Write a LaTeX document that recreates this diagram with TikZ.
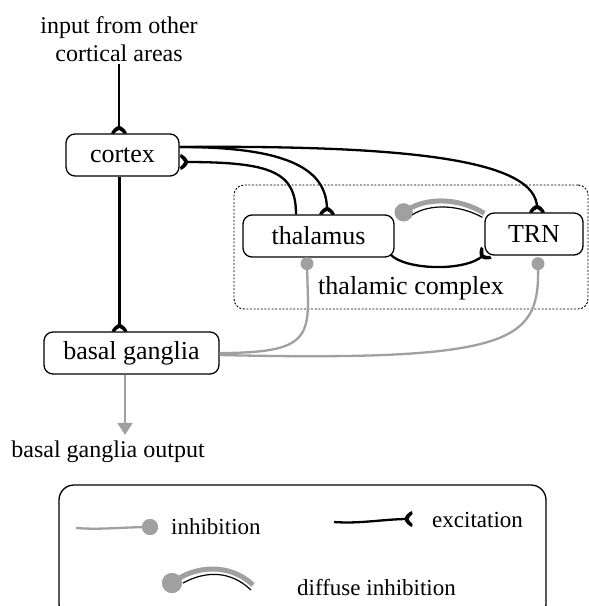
\documentclass[tikz,border=0pt]{standalone}
\usepackage{fontspec}
\setmainfont{Liberation Serif}
\usetikzlibrary{arrows.meta,calc,decorations.markings}
\definecolor{inhgray}{RGB}{160,160,160}
\begin{document}
\begin{tikzpicture}[x=1pt,y=-1pt,
  box/.style={draw,line width=1.3pt,rounded corners=9pt,minimum height=42pt,inner sep=0pt,font=\fontsize{26}{30}\selectfont},
  lbl/.style={font=\fontsize{24}{28}\selectfont,align=center,inner sep=0pt},
  leg/.style={font=\fontsize{23}{27}\selectfont,inner sep=0pt,anchor=west},
  exc/.style={line width=2.3pt,shorten >=4.5pt,
    postaction={decorate,decoration={markings,mark=at position 0.9999 with {
      \fill[shorten >=0pt] (0,-8) .. controls (-3,-7) and (-7,-3.5) .. (-7.5,0)
        .. controls (-7,3.5) and (-3,7) .. (0,8) -- (0.6,5)
        .. controls (-1.5,3) and (-3,1.5) .. (-3.5,0)
        .. controls (-3,-1.5) and (-1.5,-3) .. (0.6,-5) -- cycle;}}}},
  inh/.style={draw=inhgray,line width=2.3pt},
  inhdot/.style={fill=inhgray,circle,inner sep=0pt,minimum size=13pt},
]
\clip (0,0) rectangle (589,606);
\useasboundingbox (0,0) rectangle (589,606);

% dashed thalamic complex
\node (tc) [draw,line width=0.9pt,dash pattern=on 2pt off 1.6pt,rounded corners=10pt,minimum width=354pt,minimum height=124pt,inner sep=0pt] at (411,247) {};
\node (tclbl) [font=\fontsize{26}{30}\selectfont,inner sep=0pt] at (411,288) {thalamic complex};

% nodes
\node (in) [lbl] at (119,39) {input from other\\cortical areas};
\node (cortex) [box,minimum width=113pt] at (122.5,155) {cortex};
\node (thal) [box,minimum width=151pt] at (318.5,236) {thalamus};
\node (trn) [box,minimum width=98pt] at (534,234) {TRN};
\node (bg) [box,minimum width=175pt] at (131.5,353) {basal ganglia};
\node (bgout) [lbl] at (108,452) {basal ganglia output};

% excitatory connections
\draw[exc] ([yshift=-2pt]in.south) -- (in.south |- cortex.north);
\draw[exc] ([xshift=-3pt]cortex.south) -- ([xshift=-3pt]cortex.south |- bg.north);
\draw[exc] ([yshift=8pt]cortex.east) .. controls (290,147) and (327,170) .. ([xshift=8.5pt]thal.north);
\draw[exc] ([yshift=8pt]cortex.east) .. controls (410,145) and (537,160) .. ([xshift=3pt]trn.north);
\draw[exc] ([xshift=-22.5pt]thal.north) .. controls (296,172) and (272,162) .. ([xshift=1pt,yshift=-7pt]cortex.east);
\draw[exc] ([xshift=-4pt,yshift=3pt]thal.south east) .. controls (405,270) and (465,272) .. ([xshift=2pt,yshift=3pt]trn.south west);

% basal ganglia output
\draw[draw=inhgray,line width=2.3pt,-{Triangle[width=15pt,length=12pt]},inhgray] ([xshift=-6.5pt]bg.south) -- ([xshift=-6.5pt,yshift=6pt]bg.south |- bgout.north);

% inhibitory connections
\node (dthal) [inhdot] at ([xshift=-11.5pt,yshift=-6pt]thal.south) {};
\node (dtrn) [inhdot] at ([xshift=4pt,yshift=-8pt]trn.south) {};
\draw[inh] (bg.east) .. controls (300,353) and (308,340) .. (308,300) -- (dthal.center);
\draw[inh] ([yshift=-2pt]bg.east) .. controls (520,362) and (540,340) .. (dtrn.center);

% diffuse inhibition TRN -> thalamus
\node (ddiff) [inhdot,minimum size=18pt] at ([xshift=9pt,yshift=2pt]thal.north east) {};
\draw[draw=inhgray,line width=5pt] ([yshift=-1pt]trn.north west) .. controls (460,198) and (425,196) .. (ddiff.center);
\draw[line width=1.2pt] ([xshift=-2pt,yshift=-5pt]trn.north west) .. controls (460,205) and (430,203) .. (412,215);
\node[inhdot,minimum size=18pt] at (ddiff.center) {};

% legend
\node (legbox) [draw,line width=1.3pt,rounded corners=15pt,minimum width=487pt,minimum height=134pt,inner sep=0pt] at (302.5,552) {};
\coordinate (l1a) at (76,528);
\node (l1d) [inhdot,minimum size=16pt] at (150,527) {};
\draw[inh] (l1a) .. controls (100,530) and (125,527) .. (l1d.center);
\node[inhdot,minimum size=16pt] at (l1d.center) {};
\node (l1t) [leg] at (171,527) {inhibition};

\coordinate (l2a) at (334,522);
\coordinate (l2b) at (412,519);
\draw[exc] (l2a) .. controls (360,524) and (385,519) .. (l2b);
\node (l2t) [leg] at (432,520) {excitation};

\node (l3d) [inhdot,minimum size=20pt] at (172,583) {};
\coordinate (l3b) at (253,585);
\draw[draw=inhgray,line width=5pt] (l3d.center) .. controls (195,565) and (230,563) .. (l3b);
\draw[line width=1.2pt] (183,583) .. controls (205,571) and (230,570) .. (251,590);
\node[inhdot,minimum size=20pt] at (l3d.center) {};
\node (l3t) [leg] at (297,588) {diffuse inhibition};
\end{tikzpicture}
\end{document}
